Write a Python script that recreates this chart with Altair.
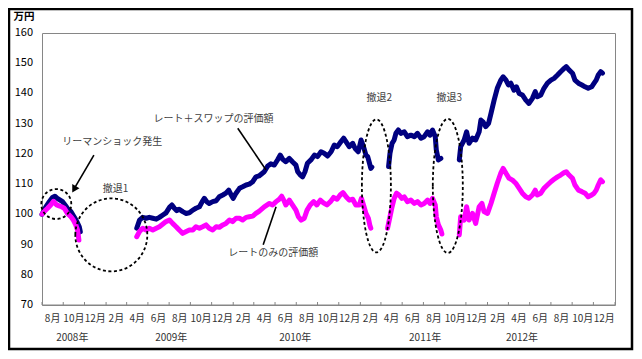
import altair as alt
import pandas as pd

FONT = "Noto Sans CJK JP"
GRAY = "#868686"
BASE = pd.Timestamp("2008-08-01")
END = pd.Timestamp("2013-02-01")

# ---- data: days since 2008-08-01 and values (万円) ----
swap_a_days = [0, 11, 21, 30, 37, 44, 52, 59, 64, 73, 83, 92, 100, 107, 110]
swap_a_vals = [100.0, 102.5, 104.2, 105.6, 106.0, 105.3, 104.7, 104.2, 103.4, 102.0, 100.9, 99.2, 97.6, 95.9, 94.2]
swap_b_days = [272, 280, 289, 299, 308, 318, 328, 337, 347, 356, 366, 373, 380, 387, 394, 404, 414, 423, 433, 442,
               452, 460, 466, 473, 480, 490, 500, 509, 519, 528, 536, 543, 549, 557, 567, 576, 586, 595, 605, 614,
               623, 638, 648, 657, 667, 676, 684, 691, 700, 710, 719, 729, 734, 742, 748, 755, 762, 772, 782, 791,
               801, 810, 820, 830, 839, 848, 858, 866, 873, 882, 892, 899, 908, 916, 923, 930, 935, 939, 944, 947]
swap_b_vals = [95.4, 98.1, 99.0, 98.7, 99.0, 98.7, 98.4, 99.0, 99.8, 100.5, 102.3, 103.1, 102.0, 101.2, 101.7, 100.9, 100.3, 100.5, 101.4, 102.0,
               102.5, 104.2, 105.3, 104.2, 103.6, 104.2, 104.5, 105.8, 106.4, 107.0, 108.0, 106.4, 105.3, 107.0, 108.6, 109.1, 109.7, 110.0, 110.8, 112.4,
               112.7, 114.1, 116.0, 116.7, 116.3, 118.0, 119.6, 118.2, 117.4, 118.5, 117.4, 116.3, 114.1, 113.0, 112.4, 114.1, 116.9, 118.0, 119.6, 119.1,
               120.7, 120.2, 119.3, 120.7, 122.9, 122.4, 124.0, 125.2, 124.0, 122.4, 123.5, 121.8, 120.7, 124.6, 122.4, 119.6, 119.1, 117.4, 115.2, 115.6]
swap_c_days = [995, 999, 1005, 1011, 1016, 1023, 1030, 1040, 1049, 1059, 1069, 1078, 1088, 1097, 1107, 1114, 1121, 1129, 1132, 1138, 1145]
swap_c_vals = [115.8, 120.2, 123.5, 124.6, 126.8, 127.9, 126.8, 127.3, 125.7, 126.2, 125.7, 126.8, 125.2, 125.7, 127.3, 126.2, 127.9, 125.7, 121.3, 118.0, 118.5]
swap_d_days = [1198, 1202, 1212, 1219, 1226, 1236, 1245, 1255, 1260, 1266, 1274, 1282, 1289, 1298, 1307, 1317, 1324, 1332, 1339, 1346,
               1355, 1362, 1370, 1379, 1389, 1398, 1408, 1416, 1422, 1432, 1441, 1451, 1461, 1470, 1480, 1489, 1499, 1505, 1513, 1523,
               1530, 1540, 1550, 1559, 1568, 1578, 1585, 1591, 1597, 1604, 1609]
swap_d_vals = [118.0, 122.4, 124.6, 127.3, 123.5, 125.2, 124.6, 127.3, 131.2, 130.6, 129.0, 130.1, 133.4, 137.8, 141.7, 144.4, 145.5, 144.4, 142.8, 143.4,
               141.1, 142.2, 140.0, 139.5, 137.8, 136.7, 138.4, 140.6, 138.9, 139.5, 141.7, 143.4, 144.4, 145.0, 146.1, 147.2, 148.3, 148.9, 147.8, 146.7,
               144.4, 143.4, 142.8, 142.2, 141.7, 142.2, 143.4, 144.4, 146.1, 147.2, 146.7]

rate_a_days = [0, 6, 16, 25, 33, 42, 49, 56, 64, 73, 83, 90, 97, 102, 104, 106]
rate_a_vals = [100.1, 100.9, 102.0, 103.1, 104.3, 103.1, 102.8, 102.5, 102.0, 100.3, 99.2, 98.1, 96.5, 94.8, 93.2, 91.5]
rate_b_days = [272, 280, 289, 299, 308, 318, 328, 337, 347, 356, 366, 375, 385, 394, 404, 414, 423, 433, 442, 452,
               461, 471, 480, 490, 500, 509, 519, 528, 538, 547, 557, 567, 576, 586, 595, 605, 614, 623, 638, 653,
               662, 672, 681, 688, 694, 700, 710, 719, 729, 736, 744, 753, 761, 770, 780, 789, 799, 808, 818, 828,
               837, 847, 856, 864, 873, 882, 892, 901, 911, 917, 923, 930, 937, 941, 944]
rate_b_vals = [92.6, 94.3, 95.4, 94.8, 95.4, 94.8, 95.4, 95.9, 96.8, 97.6, 98.1, 97.0, 95.9, 94.8, 93.7, 94.3, 94.8, 94.8, 95.9, 95.4,
               95.9, 96.5, 95.4, 94.8, 95.9, 95.7, 96.5, 97.0, 98.1, 97.6, 98.7, 98.7, 98.1, 99.0, 99.2, 99.4, 100.3, 101.0, 102.5, 103.6,
               103.1, 104.2, 105.0, 106.0, 104.7, 103.1, 104.7, 103.1, 101.4, 99.2, 98.1, 98.7, 101.4, 103.1, 104.2, 103.1, 104.7, 103.8, 103.1, 104.2,
               105.6, 105.0, 106.4, 107.2, 105.8, 104.7, 105.0, 103.1, 103.1, 105.3, 103.1, 100.3, 98.7, 96.5, 95.4]
rate_c_days = [992, 999, 1005, 1011, 1018, 1025, 1033, 1040, 1049, 1059, 1069, 1078, 1088, 1097, 1107, 1114, 1121, 1129, 1132, 1138, 1145, 1148]
rate_c_vals = [95.4, 99.2, 102.5, 105.3, 107.0, 106.4, 105.3, 105.8, 104.2, 104.7, 103.6, 104.2, 103.1, 103.6, 104.7, 103.6, 105.3, 103.1, 99.2, 96.5, 94.8, 93.5]
rate_d_days = [1198, 1202, 1212, 1219, 1226, 1236, 1245, 1255, 1263, 1269, 1279, 1289, 1298, 1307, 1317, 1324, 1332, 1341, 1350, 1360,
               1370, 1379, 1389, 1398, 1408, 1416, 1422, 1432, 1441, 1451, 1461, 1470, 1480, 1489, 1499, 1505, 1513, 1523, 1530, 1540,
               1550, 1559, 1568, 1578, 1585, 1591, 1597, 1604, 1609]
rate_d_vals = [93.2, 99.2, 98.1, 102.5, 98.1, 100.3, 97.0, 102.5, 103.6, 100.9, 100.3, 103.6, 107.0, 110.3, 113.6, 115.2, 113.6, 111.9, 111.4, 110.3,
               108.6, 107.0, 105.8, 105.3, 106.4, 108.0, 106.4, 107.0, 108.6, 109.7, 110.8, 111.6, 112.4, 113.0, 113.8, 114.1, 113.0, 111.9, 109.7, 108.0,
               107.5, 107.0, 105.8, 106.4, 107.0, 108.0, 109.7, 111.4, 110.8]

# axis labels
y_ticks = [70, 80, 90, 100, 110, 120, 130, 140, 150, 160]
month_labels = ["8月", "10月", "12月",
                "2月", "4月", "6月", "8月", "10月", "12月",
                "2月", "4月", "6月", "8月", "10月", "12月",
                "2月", "4月", "6月", "8月", "10月", "12月",
                "2月", "4月", "6月", "8月", "10月", "12月"]
year_labels = ["2008年", "2009年", "2010年", "2011年", "2012年"]
year_days = [87, 371, 727, 1100, 1378]

note_labels = ["リーマンショック発生", "撤退1", "レート＋スワップの評価額", "レートのみの評価額", "撤退2", "撤退3"]
note_days = [202, 211, 492, 664, 968, 1169]
note_vals = [123.9, 108.4, 131.5, 87.1, 138.5, 138.5]

# dashed ellipses: centre day, centre value, width px, height px
ell_days = [41, 199, 960, 1165]
ell_vals = [103.4, 93.2, 109.4, 109.4]
ell_w = [30, 72, 29, 30]
ell_h = [30, 73, 133, 134]

# leader lines: (day1, val1) -> (day2, val2)
lead_d1 = [562, 672, 149]
lead_v1 = [128.5, 102.5, 119.6]
lead_d2 = [643, 635, 90]
lead_v2 = [114.7, 89.9, 108.0]


def ms(d):
    return int((BASE + pd.Timedelta(days=d)).value // 1_000_000)


def build(segs):
    rows = []
    for k, (ds, vs) in enumerate(segs):
        for d, v in zip(ds, vs):
            rows.append({"t": ms(d), "v": v, "seg": k})
    return pd.DataFrame(rows)


swap_df = build([(swap_a_days, swap_a_vals), (swap_b_days, swap_b_vals),
                 (swap_c_days, swap_c_vals), (swap_d_days, swap_d_vals)])
rate_df = build([(rate_a_days, rate_a_vals), (rate_b_days, rate_b_vals),
                 (rate_c_days, rate_c_vals), (rate_d_days, rate_d_vals)])

tick_dates = pd.date_range(BASE, END, freq="2MS")
tick_ms = [int(t.value // 1_000_000) for t in tick_dates]

W, H = 573, 272

xs = alt.Scale(type="utc", domain=[ms(0), int(END.value // 1_000_000)])
ys = alt.Scale(domain=[70, 160], nice=False, zero=False)

swap_line = alt.Chart(swap_df).mark_line(color="#000080", strokeWidth=5, strokeJoin="round",
                                         strokeCap="round").encode(
    x=alt.X("t:T", scale=xs, axis=None),
    y=alt.Y("v:Q", scale=ys, axis=alt.Axis(values=y_ticks, tickSize=3, tickColor=GRAY,
                                           domainColor=GRAY, grid=False, title=None, labels=False)),
    detail="seg:N",
)
rate_line = alt.Chart(rate_df).mark_line(color="#FF00FF", strokeWidth=5, strokeJoin="round",
                                         strokeCap="round").encode(
    x=alt.X("t:T", axis=None), y=alt.Y("v:Q", axis=None), detail="seg:N")

y_text = alt.Chart(pd.DataFrame({"v": y_ticks})).mark_text(
    font=FONT, fontSize=11, color="#000000", align="right", baseline="middle").encode(
    x=alt.value(-9), y=alt.Y("v:Q", axis=None), text="v:Q")

# x axis line, inward ticks and month labels drawn from the tick table
axis_df = pd.DataFrame({"t": tick_ms[:-1], "t2": tick_ms[1:], "label": month_labels})
xaxis_line = alt.Chart(pd.DataFrame({"t": [tick_ms[0]], "t2": [tick_ms[-1]]})).mark_rule(
    color=GRAY, strokeWidth=1).encode(x=alt.X("t:T", axis=None), x2="t2:T", y=alt.value(H))
ticks = alt.Chart(pd.DataFrame({"t": tick_ms})).mark_rule(color=GRAY, strokeWidth=1).encode(
    x=alt.X("t:T", axis=None), y=alt.value(H), y2=alt.value(H - 3))
month_text = alt.Chart(axis_df).transform_calculate(mid="(datum.t + datum.t2) / 2").mark_text(
    font=FONT, fontSize=10, color="#333333", align="center", baseline="middle").encode(
    x=alt.X("mid:T", axis=None), y=alt.value(H + 14), text="label:N")

ell_layers = []
for d, v, w, h in zip(ell_days, ell_vals, ell_w, ell_h):
    a = w / h
    path = f"M {-a:.4f} 0 A {a:.4f} 1 0 1 1 {a:.4f} 0 A {a:.4f} 1 0 1 1 {-a:.4f} 0 Z"
    ell_layers.append(
        alt.Chart(pd.DataFrame({"t": [ms(d)], "v": [v]})).mark_point(
            shape=path, size=h * h, filled=False, stroke="black", strokeWidth=1.8,
            strokeDash=[3, 2.5], opacity=1).encode(
            x=alt.X("t:T", axis=None), y=alt.Y("v:Q", axis=None)))

lead_df = pd.DataFrame({"t": [ms(d) for d in lead_d1], "v": lead_v1,
                        "t2": [ms(d) for d in lead_d2], "v2": lead_v2})
leads = alt.Chart(lead_df).mark_rule(color="black", strokeWidth=1.6).encode(
    x=alt.X("t:T", axis=None), y=alt.Y("v:Q", axis=None), x2="t2:T", y2="v2:Q")

arrow_head = alt.Chart(pd.DataFrame({"t": [ms(92)], "v": [108.3]})).mark_point(
    shape="triangle-up", angle=210, size=70, filled=True, color="black", opacity=1).encode(
    x=alt.X("t:T", axis=None), y=alt.Y("v:Q", axis=None))

notes = alt.Chart(pd.DataFrame({"t": [ms(d) for d in note_days], "v": note_vals,
                                "label": note_labels})).mark_text(
    font=FONT, fontSize=10, color="#404040", align="center", baseline="middle").encode(
    x=alt.X("t:T", axis=None), y=alt.Y("v:Q", axis=None), text="label:N")

years = alt.Chart(pd.DataFrame({"t": [ms(d) for d in year_days], "label": year_labels})).mark_text(
    font=FONT, fontSize=10, color="#333333", align="center", baseline="middle").encode(
    x=alt.X("t:T", axis=None), y=alt.value(305), text="label:N")

unit = alt.Chart(pd.DataFrame({"label": ["万円"]})).mark_text(
    font=FONT, fontSize=10.5, fontWeight="bold", color="black", align="center", baseline="middle").encode(
    x=alt.value(-18), y=alt.value(-16), text="label:N")

frame = alt.Chart(pd.DataFrame({"k": [0]})).mark_rect(
    filled=False, stroke="black", strokeWidth=2.5, fill=None).encode(
    x=alt.value(-33), x2=alt.value(590), y=alt.value(-24), y2=alt.value(316))

chart = alt.layer(swap_line, rate_line, y_text, xaxis_line, ticks, month_text, *ell_layers, leads,
                  arrow_head, notes, years, unit, frame).properties(
    width=W, height=H,
    padding={"left": 34, "top": 25, "right": 19, "bottom": 46},
    autosize=alt.AutoSizeParams(type="none"),
).configure_view(stroke=GRAY, strokeWidth=1)

chart.save("out.html", embed_options={"renderer": "svg", "actions": False})
